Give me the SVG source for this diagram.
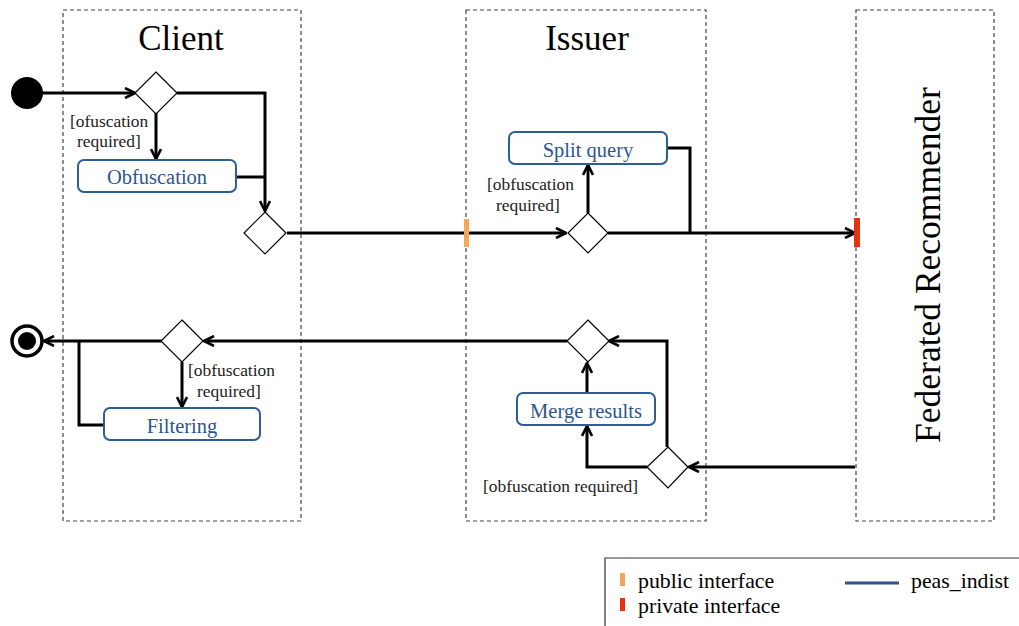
<svg xmlns="http://www.w3.org/2000/svg" width="1019" height="626" viewBox="0 0 1019 626">
  <style>
    .lane { fill: none; stroke: #444; stroke-width: 1.2; stroke-dasharray: 4 3; }
    .title { font-family: "Liberation Serif", "Times New Roman", serif; font-size: 35px; fill: #000; }
    .lbl { font-family: "Liberation Serif", "Times New Roman", serif; font-size: 17.4px; fill: #222; }
    .act { fill: #fff; stroke: #2E5C96; stroke-width: 2; }
    .acttxt { font-family: "Liberation Serif", "Times New Roman", serif; font-size: 20.5px; fill: #2E5590; text-anchor: middle; }
    .dec { fill: #fff; stroke: #000; stroke-width: 1.2; }
    .flow { fill: none; stroke: #000; stroke-width: 3; }
    .legtxt { font-family: "Liberation Serif", "Times New Roman", serif; font-size: 21.8px; fill: #000; }
  </style>
  <defs>
    <marker id="arr" viewBox="0 0 12 12" markerWidth="12" markerHeight="12" refX="11" refY="6" orient="auto" markerUnits="userSpaceOnUse">
      <path d="M1,1 L11,6 L1,11" fill="none" stroke="#000" stroke-width="2.6"/>
    </marker>
  </defs>
  <rect width="1019" height="626" fill="#fff"/>

  <!-- swimlanes -->
  <g id="lane-client">
    <rect class="lane" x="63" y="10" width="238" height="511"/>
    <text class="title" x="181" y="50" text-anchor="middle">Client</text>
  </g>
  <g id="lane-issuer">
    <rect class="lane" x="466" y="10" width="240" height="511"/>
    <text class="title" x="587" y="50" text-anchor="middle">Issuer</text>
  </g>
  <g id="lane-recommender">
    <rect class="lane" x="856" y="10" width="138" height="511"/>
    <text class="title" transform="translate(940,265) rotate(-90)" x="0" y="0" text-anchor="middle" style="font-size:35.5px">Federated Recommender</text>
  </g>

  <!-- connectors -->
  <g id="connectors">
    <path class="flow" d="M27,93 H135" marker-end="url(#arr)"/>
    <path class="flow" d="M156,113 V159" marker-end="url(#arr)"/>
    <path class="flow" d="M177,93 H265 V211" marker-end="url(#arr)"/>
    <path class="flow" d="M236,177 H265"/>
    <path class="flow" d="M287,233 H566" marker-end="url(#arr)"/>
    <path class="flow" d="M588,213 V165" marker-end="url(#arr)"/>
    <path class="flow" d="M667,148 H690 V233"/>
    <path class="flow" d="M608,233 H855" marker-end="url(#arr)"/>
    <path class="flow" d="M855,467 H689" marker-end="url(#arr)"/>
    <path class="flow" d="M647,467 H587 V426" marker-end="url(#arr)"/>
    <path class="flow" d="M667,447 V341 H609" marker-end="url(#arr)"/>
    <path class="flow" d="M587,393 V363" marker-end="url(#arr)"/>
    <path class="flow" d="M567,341 H204" marker-end="url(#arr)"/>
    <path class="flow" d="M182,362 V407" marker-end="url(#arr)"/>
    <path class="flow" d="M104,425 H79 V341"/>
    <path class="flow" d="M162,341 H44" marker-end="url(#arr)"/>
    <text class="lbl" x="70" y="127">[ofuscation</text>
    <text class="lbl" x="77" y="147">required]</text>
    <text class="lbl" x="487" y="190">[obfuscation</text>
    <text class="lbl" x="496" y="211">required]</text>
    <text class="lbl" x="188" y="376">[obfuscation</text>
    <text class="lbl" x="197" y="397">required]</text>
    <text class="lbl" x="483" y="492">[obfuscation required]</text>
  </g>

  <!-- interface ports -->
  <g id="port-public">
    <rect x="464" y="219" width="5" height="28" fill="#F4A55A"/>
  </g>
  <g id="port-private">
    <rect x="854" y="218" width="6" height="29" fill="#E8320F"/>
  </g>

  <!-- start / end -->
  <g id="start">
    <circle cx="27" cy="93" r="16" fill="#000"/>
  </g>
  <g id="end">
    <circle cx="27" cy="341" r="15" fill="#fff" stroke="#000" stroke-width="3.5"/>
    <circle cx="27" cy="341" r="9" fill="#000"/>
  </g>

  <!-- decisions -->
  <g id="dec-client-in"><path class="dec" d="M156,72 L177,93 L156,114 L135,93 Z"/></g>
  <g id="dec-client-out"><path class="dec" d="M265,212 L286,233 L265,254 L244,233 Z"/></g>
  <g id="dec-issuer-in"><path class="dec" d="M588,213 L608,233 L588,253 L568,233 Z"/></g>
  <g id="dec-issuer-merge"><path class="dec" d="M588,320 L609,341 L588,362 L567,341 Z"/></g>
  <g id="dec-issuer-back"><path class="dec" d="M668,447 L688,467 L668,488 L647,467 Z"/></g>
  <g id="dec-client-back"><path class="dec" d="M182,320 L203,341 L182,362 L161,341 Z"/></g>

  <!-- actions -->
  <g id="act-obfuscation">
    <rect class="act" x="78" y="160" width="158" height="32" rx="6"/>
    <text class="acttxt" x="157" y="184">Obfuscation</text>
  </g>
  <g id="act-split">
    <rect class="act" x="509" y="132" width="158" height="32" rx="6"/>
    <text class="acttxt" x="588" y="157">Split query</text>
  </g>
  <g id="act-merge">
    <rect class="act" x="517" y="393" width="138" height="32" rx="6"/>
    <text class="acttxt" x="586" y="418">Merge results</text>
  </g>
  <g id="act-filtering">
    <rect class="act" x="104" y="408" width="156" height="32" rx="6"/>
    <text class="acttxt" x="182" y="433">Filtering</text>
  </g>

  <!-- legend -->
  <g id="legend">
    <path d="M605,626 V558 H1019" fill="none" stroke="#333" stroke-width="1.2"/>
    <rect x="620" y="573" width="5" height="13" fill="#F4A55A"/>
    <text class="legtxt" x="638" y="588">public interface</text>
    <rect x="620" y="598" width="5" height="13" fill="#E8320F"/>
    <text class="legtxt" x="638" y="613">private interface</text>
    <line x1="845" y1="583" x2="899" y2="583" stroke="#2E5590" stroke-width="3"/>
    <text class="legtxt" x="911" y="588">peas_indist</text>
  </g>
</svg>
